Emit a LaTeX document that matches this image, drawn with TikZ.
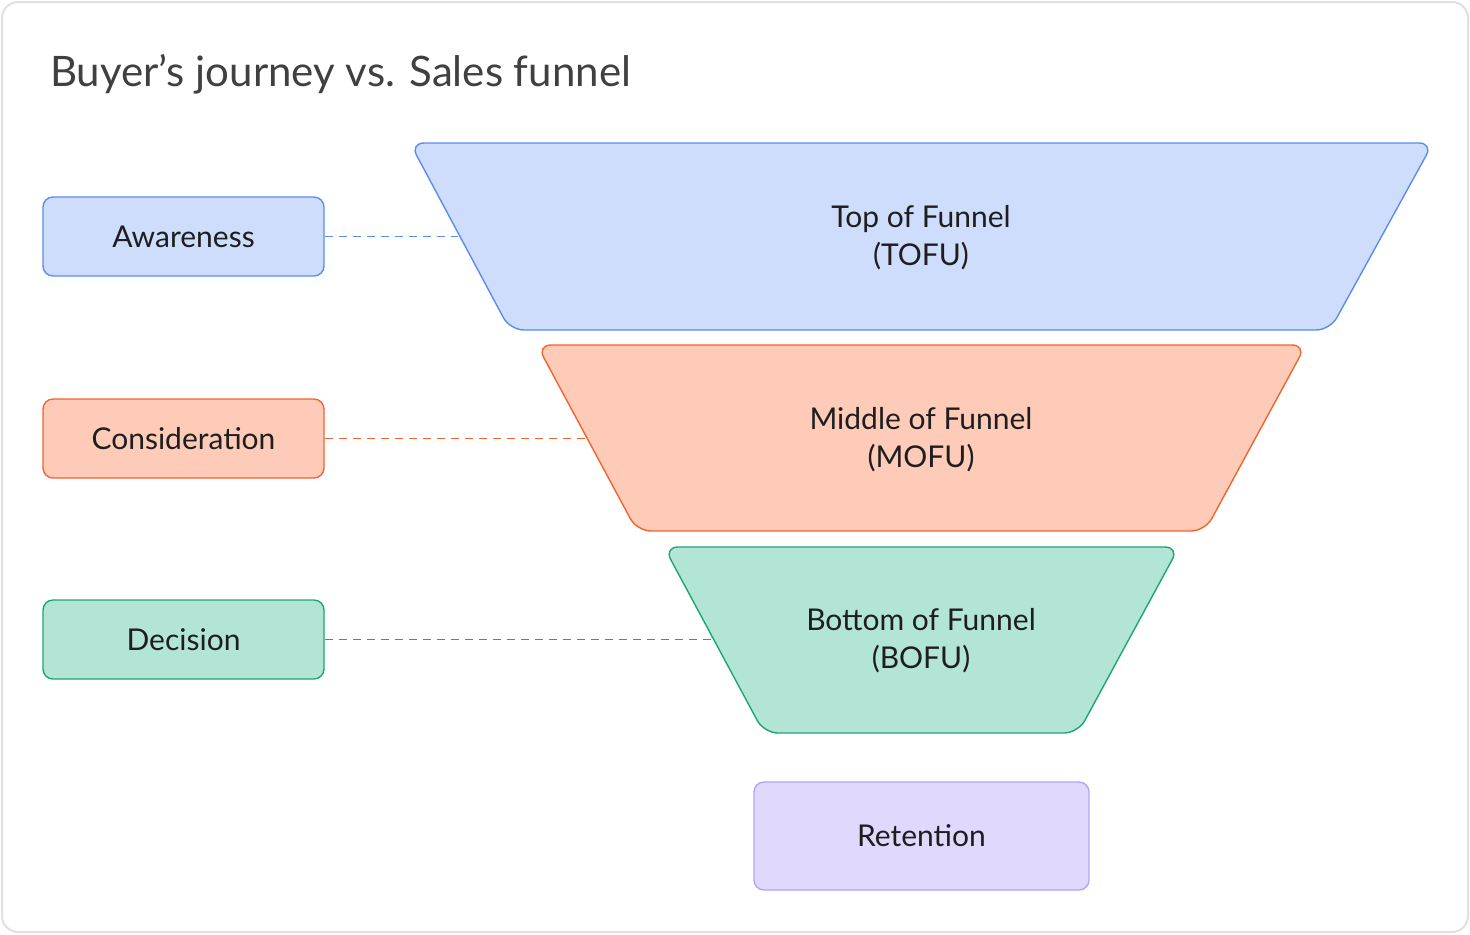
\documentclass[tikz,border=0pt]{standalone}
\usepackage{fontspec}
\setmainfont{Lato}
\usetikzlibrary{calc,positioning}
\definecolor{blueF}{HTML}{CFDDFD}
\definecolor{blueD}{HTML}{5B8DEF}
\definecolor{orF}{HTML}{FDCBB8}
\definecolor{orD}{HTML}{F26430}
\definecolor{grF}{HTML}{B3E5D6}
\definecolor{grD}{HTML}{1EA672}
\definecolor{puF}{HTML}{E0D9FD}
\definecolor{puD}{HTML}{B4A3F5}
\definecolor{ink}{HTML}{1E1E1E}
\begin{document}
\begin{tikzpicture}[x=0.5pt,y=-0.5pt,
  stage/.style={draw,rounded corners=5pt,line width=0.7pt,minimum width=140.5pt,minimum height=39.5pt,font=\fontsize{15}{18}\selectfont,text=ink},
  funnel/.style={rounded corners=7pt,line width=0.7pt},
  link/.style={dashed,line width=0.6pt,dash pattern=on 4pt off 3pt},
  lbl/.style={align=center,font=\fontsize{15}{19}\selectfont,text=ink}]
  \useasboundingbox (0,0) rectangle (1470,934);
  \draw[draw=black!12,fill=white,line width=1pt,rounded corners=8pt] (2,2) rectangle (1468,932);
  \node (title) [anchor=base west,font=\fontsize{21}{24}\selectfont,text=black!75] at (43,86) {Buyer's journey vs. Sales funnel};
  % stages
  \node (aw) [stage,fill=blueF,draw=blueD] at (183.5,236.5) {Awareness};
  \node (co) [stage,fill=orF,draw=orD] at (183.5,438.5) {Consideration};
  \node (de) [stage,fill=grF,draw=grD] at (183.5,639.5) {Decision};
  \node (re) [stage,fill=puF,draw=puD,minimum width=167.5pt,minimum height=54pt] at (921.5,836) {Retention};
  % funnel
  \draw[funnel,fill=blueF,draw=blueD] (410,143) -- (1433,143) -- (1330,330) -- (510,330) -- cycle;
  \draw[funnel,fill=orF,draw=orD] (537,345) -- (1306,345) -- (1205,531) -- (637,531) -- cycle;
  \draw[funnel,fill=grF,draw=grD] (664,547) -- (1179,547) -- (1078,733) -- (764,733) -- cycle;
  \node (tofu) [lbl] at (921,238) {Top of Funnel\\(TOFU)};
  \node (mofu) [lbl] at (921,440) {Middle of Funnel\\(MOFU)};
  \node (bofu) [lbl] at (921,641) {Bottom of Funnel\\(BOFU)};
  \coordinate (tofuE) at (458,236.5);
  \coordinate (mofuE) at (585,438.5);
  \coordinate (bofuE) at (712,639.5);
  \draw[link,blueD] (aw.east) -- (tofuE);
  \draw[link,orD] (co.east) -- (mofuE);
  \draw[link,grD] (de.east) -- (bofuE);
\end{tikzpicture}
\end{document}
